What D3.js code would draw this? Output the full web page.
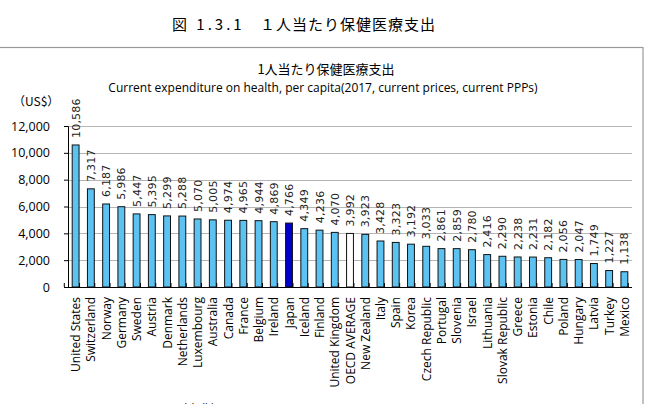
<!DOCTYPE html>
<html>
<head>
<meta charset="utf-8">
<script src="https://cdn.jsdelivr.net/npm/d3@7"></script>
<style>
  body { margin: 0; background: #fff; }
  svg { display: block; }
</style>
</head>
<body>
<div id="chart-container"></div>
<script>
// 国名と値
const countries = ["United States", "Switzerland", "Norway", "Germany", "Sweden", "Austria", "Denmark",
    "Netherlands", "Luxembourg", "Australia", "Canada", "France", "Belgium", "Ireland", "Japan", "Iceland",
    "Finland", "United Kingdom", "OECD AVERAGE", "New Zealand", "Italy", "Spain", "Korea", "Czech Republic",
    "Portugal", "Slovenia", "Israel", "Lithuania", "Slovak Republic", "Greece", "Estonia", "Chile", "Poland",
    "Hungary", "Latvia", "Turkey", "Mexico"];
const values = [10586, 7317, 6187, 5986, 5447, 5395, 5299, 5288, 5070, 5005, 4974, 4965, 4944, 4869, 4766,
    4349, 4236, 4070, 3992, 3923, 3428, 3323, 3192, 3033, 2861, 2859, 2780, 2416, 2290, 2238, 2231, 2182,
    2056, 2047, 1749, 1227, 1138];
const yTicks = [0, 2000, 4000, 6000, 8000, 10000, 12000];

const data = countries.map((c, i) => ({ name: c, value: values[i] }));

const W = 651, H = 404;
const margin = { top: 126, right: 19, bottom: 117, left: 68 };
const width = W - margin.left - margin.right;
const height = H - margin.top - margin.bottom;

const svg = d3.select("#chart-container")
    .append("svg")
    .attr("width", W)
    .attr("height", H)
    .style("font-family", "'Noto Sans CJK JP', 'Liberation Sans', sans-serif");

// 外側タイトル
const title = svg.append("text")
    .attr("y", 30)
    .style("font-size", "15px")
    .style("letter-spacing", "1px");
title.append("tspan").attr("x", 172).style("letter-spacing", "3px").text("図 1.3.1");
title.append("tspan").attr("x", 260).text("１人当たり保健医療支出");

// 枠
svg.append("rect")
    .attr("x", -2)
    .attr("y", 47.5)
    .attr("width", 645)
    .attr("height", 400)
    .attr("fill", "none")
    .attr("stroke", "#999")
    .attr("stroke-width", 1.2);

svg.append("text")
    .attr("x", 326)
    .attr("y", 74)
    .attr("text-anchor", "middle")
    .style("font-size", "13px")
    .text("1人当たり保健医療支出");

svg.append("text")
    .attr("x", 323)
    .attr("y", 92)
    .attr("text-anchor", "middle")
    .style("font-size", "12px")
    .style("font-family", "'Open Sans', 'Liberation Sans', sans-serif")
    .text("Current expenditure on health, per capita(2017,  current prices, current PPPs)");

svg.append("text")
    .attr("x", 13)
    .attr("y", 106)
    .style("font-size", "12px")
    .text("（US$）");

const g = svg.append("g")
    .attr("transform", `translate(${margin.left},${margin.top})`);

const x = d3.scaleBand()
    .domain(countries)
    .range([0, width])
    .paddingInner(0.55)
    .paddingOuter(0.275);

const y = d3.scaleLinear()
    .domain([0, 12000])
    .range([height, 0]);

// グリッド線
g.selectAll(".grid")
    .data(yTicks.filter(d => d > 0))
    .join("line")
    .attr("x1", 0)
    .attr("x2", width)
    .attr("y1", d => Math.round(y(d)) + 0.5)
    .attr("y2", d => Math.round(y(d)) + 0.5)
    .attr("stroke", "#b5b5b5")
    .attr("stroke-width", 1.2);

// Y軸
const yAxis = g.append("g")
    .call(d3.axisLeft(y).tickValues(yTicks).tickFormat(d3.format(",")).tickSize(4).tickPadding(14));
yAxis.selectAll("text")
    .style("font-size", "12.5px")
    .style("font-family", "'Open Sans', 'Liberation Sans', sans-serif")
    .attr("fill", "#000");
yAxis.select(".domain").attr("stroke", "#000");
yAxis.selectAll(".tick line").attr("stroke", "#000").attr("x1", 0).attr("x2", -4);

// 棒
g.selectAll(".bar")
    .data(data)
    .join("rect")
    .attr("x", d => x(d.name))
    .attr("y", d => y(d.value))
    .attr("width", x.bandwidth())
    .attr("height", d => height - y(d.value))
    .attr("fill", d => d.name === "Japan" ? "#0000cc" : d.name === "OECD AVERAGE" ? "#ffffff" : "#5bc2f2")
    .attr("stroke", "#111")
    .attr("stroke-width", 1);

// 値ラベル
g.selectAll(".val")
    .data(data)
    .join("text")
    .attr("transform", d => `translate(${x(d.name) + x.bandwidth() / 2 + 4},${y(d.value) - 7}) rotate(-90)`)
    .attr("text-anchor", "start")
    .style("font-size", "11px")
    .style("font-family", "'DejaVu Sans', sans-serif")
    .style("letter-spacing", "0.2px")
    .attr("fill", "#222")
    .text(d => d3.format(",")(d.value));

// X軸
g.append("line")
    .attr("x1", 0)
    .attr("x2", width)
    .attr("y1", height + 0.5)
    .attr("y2", height + 0.5)
    .attr("stroke", "#000");

const step = x.step();
g.selectAll(".xtick")
    .data(d3.range(countries.length + 1))
    .join("line")
    .attr("x1", i => x(countries[0]) - x.paddingOuter() * step + i * step - (x.paddingInner() * step) / 2 + 0.5)
    .attr("x2", i => x(countries[0]) - x.paddingOuter() * step + i * step - (x.paddingInner() * step) / 2 + 0.5)
    .attr("y1", height)
    .attr("y2", height - 4)
    .attr("stroke", "#000");

g.selectAll(".xlab")
    .data(data)
    .join("text")
    .attr("transform", d => `translate(${x(d.name) + x.bandwidth() / 2 + 4.5},${height + 10}) rotate(-90)`)
    .attr("text-anchor", "end")
    .style("font-size", "12px")
    .style("font-family", "'Open Sans', 'Liberation Sans', sans-serif")
    .attr("fill", "#000")
    .text(d => d.name);

// 出典(下端で切れている)
svg.append("text")
    .attr("x", 175)
    .attr("y", 414)
    .style("font-size", "12px")
    .text("（出典）OECD Health Statistics 2019");
</script>
</body>
</html>
